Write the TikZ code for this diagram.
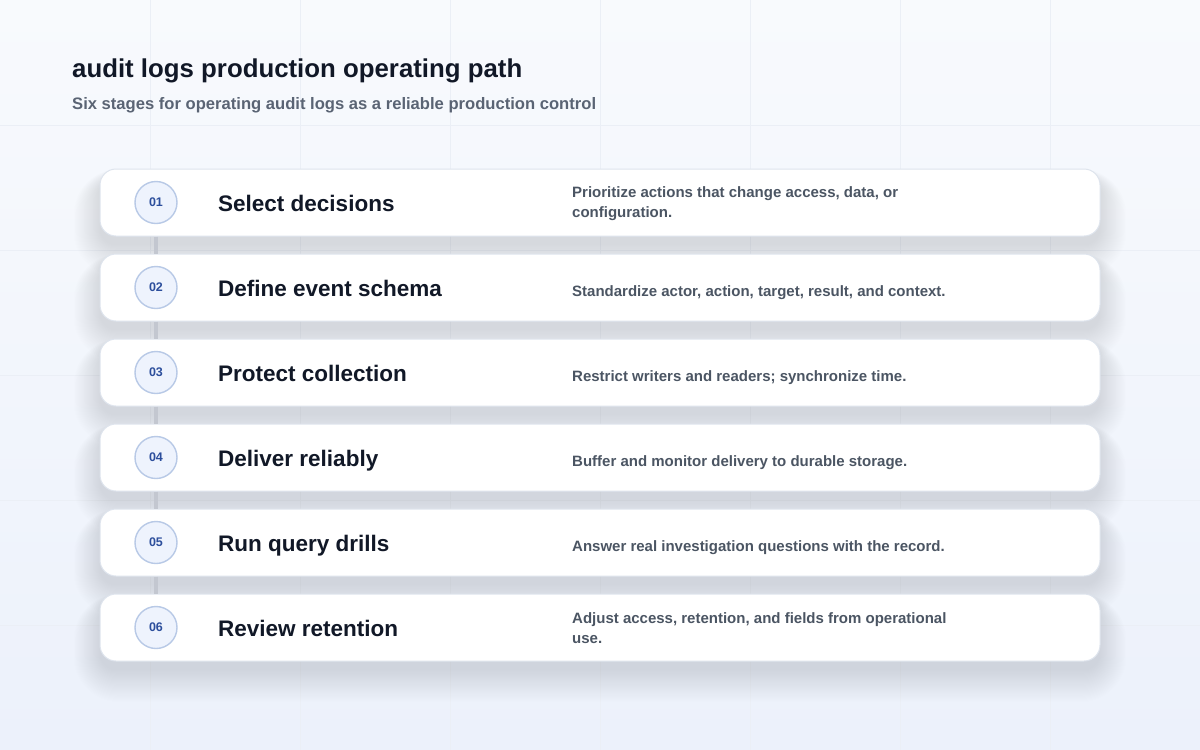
\documentclass[tikz,border=0pt]{standalone}
\usepackage{fontspec}
\setmainfont{Liberation Sans}
\usetikzlibrary{backgrounds}
\definecolor{bgtl}{HTML}{F8FAFD}
\definecolor{bgbr}{HTML}{ECF1FB}
\definecolor{gridc}{HTML}{EBEFF6}
\definecolor{shadowc}{HTML}{7B8CB8}
\definecolor{cardborder}{HTML}{DEE4ED}
\definecolor{titlec}{HTML}{111827}
\definecolor{subc}{HTML}{5A6474}
\definecolor{descc}{HTML}{4B5563}
\definecolor{badgefill}{HTML}{EEF3FD}
\definecolor{badgeline}{HTML}{B8C9E6}
\definecolor{badgetext}{HTML}{2C4E9C}
\definecolor{linkc}{HTML}{C3C7D0}
\pgfdeclarelayer{bglayer}
\pgfdeclarelayer{shadowlayer}
\pgfsetlayers{bglayer,shadowlayer,main}
\tikzset{
  card/.style={draw=cardborder, line width=1pt, fill=white, rounded corners=16pt,
    minimum width=1000pt, minimum height=67pt, inner sep=0pt},
  badge/.style={circle, draw=badgeline, line width=1.4pt, fill=badgefill,
    minimum size=42pt, inner sep=0pt, text=badgetext,
    font=\fontsize{12.5}{14}\selectfont\bfseries},
  stagetitle/.style={anchor=base west, text=titlec, inner sep=0pt,
    font=\fontsize{22.5}{26}\selectfont\bfseries},
  stagedesc/.style={anchor=west, text=descc, inner sep=0pt, align=left,
    font=\fontsize{15}{20}\selectfont\bfseries},
  link/.style={draw=linkc, line width=3.5pt},
  gridline/.style={draw=gridc, line width=0.8pt}
}
% #1 index, #2 center y, #3 number, #4 title, #5 description, #6 description offset
\newcommand\stagecard[6]{%
  \begin{pgfonlayer}{shadowlayer}
    \foreach \i in {0,...,29}{
      \pgfmathsetmacro\rr{16+\i}
      \fill[shadowc, opacity=0.0065, rounded corners=\rr pt]
        (100-0.9*\i, #2-33.5+9-0.3*\i) rectangle (1100+0.9*\i, #2+33.5+9+1.1*\i);
    }
  \end{pgfonlayer}
  \node[card] (c#1) at (600, #2) {};
  \node[badge] (n#1) at (156, #2) {#3};
  \node[stagetitle] (t#1) at (218, #2+9) {#4};
  \node[stagedesc] (d#1) at (572, #2+#6) {#5};
}
\begin{document}
\begin{tikzpicture}[x=1pt,y=-1pt]
\useasboundingbox (0,0) rectangle (1200,750);
\begin{pgfonlayer}{bglayer}
  \shade[left color=bgtl, right color=bgbr, shading angle=0]
    (0,0) rectangle (1200,750);
  \foreach \x in {150,300,...,1050} \draw[gridline] (\x,0) -- (\x,750);
  \foreach \y in {125,250,...,625} \draw[gridline] (0,\y) -- (1200,\y);
\end{pgfonlayer}

\node[anchor=base west, inner sep=0pt, text=titlec, font=\fontsize{25.8}{30}\selectfont\bfseries]
  (title) at (72,77) {audit logs production operating path};
\node[anchor=base west, inner sep=0pt, text=subc, font=\fontsize{16.6}{20}\selectfont\bfseries]
  (subtitle) at (72,109.5) {Six stages for operating audit logs as a reliable production control};

\stagecard{1}{202.5}{01}{Select decisions}{Prioritize actions that change access, data, or\\configuration.}{1}
\stagecard{2}{287.5}{02}{Define event schema}{Standardize actor, action, target, result, and context.}{5}
\stagecard{3}{372.5}{03}{Protect collection}{Restrict writers and readers; synchronize time.}{5}
\stagecard{4}{457.5}{04}{Deliver reliably}{Buffer and monitor delivery to durable storage.}{5}
\stagecard{5}{542.5}{05}{Run query drills}{Answer real investigation questions with the record.}{5}
\stagecard{6}{627.5}{06}{Review retention}{Adjust access, retention, and fields from operational\\use.}{1}

\foreach \a/\b in {1/2,2/3,3/4,4/5,5/6}
  \draw[link] (c\a.south -| n\a) -- (c\b.north -| n\b);
\end{tikzpicture}
\end{document}
